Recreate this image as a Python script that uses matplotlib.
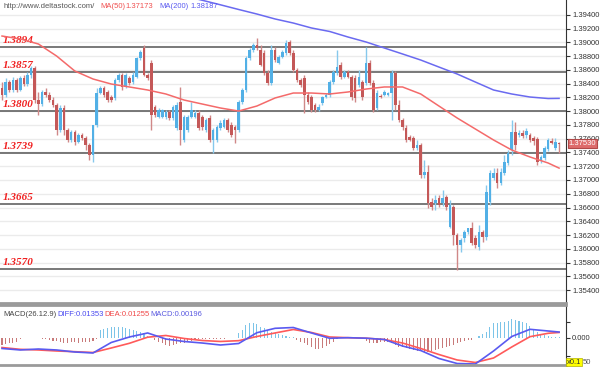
import numpy as np
import matplotlib
matplotlib.use('Agg')
import matplotlib.pyplot as plt

# daily candles (oldest -> newest)
opens = [1.3834, 1.3824, 1.3843, 1.3831, 1.3845, 1.3831, 1.3848, 1.3840, 1.3853, 1.3863,
         1.3816, 1.3811, 1.3828, 1.3824, 1.3816, 1.3809, 1.3773, 1.3805, 1.3773, 1.3758,
         1.3770, 1.3755, 1.3765, 1.3761, 1.3751, 1.3736, 1.3780, 1.3827, 1.3834, 1.3828,
         1.3821, 1.3819, 1.3845, 1.3853, 1.3835, 1.3848, 1.3843, 1.3850, 1.3877, 1.3892,
         1.3853, 1.3870, 1.3806, 1.3792, 1.3792, 1.3792, 1.3799, 1.3790, 1.3776, 1.3813,
         1.3758, 1.3773, 1.3792, 1.3792, 1.3797, 1.3792, 1.3773, 1.3790, 1.3758, 1.3758,
         1.3776, 1.3777, 1.3787, 1.3780, 1.3777, 1.3773, 1.3813, 1.3831, 1.3877, 1.3889,
         1.3896, 1.3889, 1.3885, 1.3856, 1.3841, 1.3889, 1.3870, 1.3879, 1.3885, 1.3901,
         1.3885, 1.3860, 1.3845, 1.3848, 1.3824, 1.3821, 1.3809, 1.3802, 1.3812, 1.3821,
         1.3824, 1.3843, 1.3856, 1.3867, 1.3850, 1.3857, 1.3850, 1.3848, 1.3838, 1.3843,
         1.3841, 1.3870, 1.3841, 1.3805, 1.3822, 1.3824, 1.3824, 1.3827, 1.3856, 1.3809,
         1.3787, 1.3776, 1.3763, 1.3761, 1.3747, 1.3751, 1.3707, 1.3712, 1.3668, 1.3667,
         1.3674, 1.3667, 1.3675, 1.3632, 1.3661, 1.3620, 1.3605, 1.3616, 1.3624, 1.3630,
         1.3616, 1.3603, 1.3624, 1.3617, 1.3668, 1.3703, 1.3710, 1.3696, 1.3710, 1.3725,
         1.3744, 1.3770, 1.3765, 1.3768, 1.3765, 1.3765, 1.3761, 1.3760, 1.3728, 1.3732,
         1.3745, 1.3757, 1.3747, 1.3754]
highs = [1.3843, 1.3848, 1.3845, 1.3850, 1.3848, 1.3851, 1.3853, 1.3857, 1.3866, 1.3866,
         1.3828, 1.3831, 1.3834, 1.3828, 1.3821, 1.3812, 1.3809, 1.3809, 1.3776, 1.3773,
         1.3773, 1.3768, 1.3768, 1.3764, 1.3754, 1.3780, 1.3834, 1.3837, 1.3837, 1.3831,
         1.3824, 1.3848, 1.3856, 1.3856, 1.3856, 1.3851, 1.3857, 1.3879, 1.3889, 1.3896,
         1.3856, 1.3875, 1.3809, 1.3805, 1.3803, 1.3802, 1.3802, 1.3809, 1.3813, 1.3835,
         1.3795, 1.3795, 1.3813, 1.3802, 1.3802, 1.3795, 1.3790, 1.3795, 1.3776, 1.3780,
         1.3787, 1.3790, 1.3790, 1.3784, 1.3780, 1.3816, 1.3834, 1.3880, 1.3892, 1.3899,
         1.3907, 1.3896, 1.3889, 1.3860, 1.3896, 1.3893, 1.3882, 1.3889, 1.3904, 1.3904,
         1.3889, 1.3863, 1.3848, 1.3853, 1.3828, 1.3824, 1.3812, 1.3811, 1.3822, 1.3827,
         1.3845, 1.3860, 1.3889, 1.3872, 1.3860, 1.3860, 1.3853, 1.3853, 1.3860, 1.3845,
         1.3893, 1.3875, 1.3845, 1.3831, 1.3825, 1.3831, 1.3828, 1.3860, 1.3858, 1.3816,
         1.3790, 1.3780, 1.3765, 1.3764, 1.3758, 1.3754, 1.3729, 1.3722, 1.3674, 1.3678,
         1.3678, 1.3686, 1.3678, 1.3671, 1.3664, 1.3623, 1.3616, 1.3627, 1.3630, 1.3639,
         1.3620, 1.3635, 1.3627, 1.3693, 1.3715, 1.3717, 1.3717, 1.3717, 1.3736, 1.3744,
         1.3787, 1.3784, 1.3773, 1.3773, 1.3776, 1.3768, 1.3764, 1.3763, 1.3736, 1.3749,
         1.3761, 1.3761, 1.3761, 1.3755]
lows = [1.3816, 1.3821, 1.3828, 1.3828, 1.3828, 1.3829, 1.3837, 1.3837, 1.3848, 1.3812,
        1.3795, 1.3808, 1.3821, 1.3813, 1.3806, 1.3765, 1.3770, 1.3765, 1.3755, 1.3755,
        1.3751, 1.3754, 1.3758, 1.3744, 1.3729, 1.3726, 1.3777, 1.3825, 1.3821, 1.3813,
        1.3813, 1.3816, 1.3843, 1.3831, 1.3834, 1.3838, 1.3840, 1.3848, 1.3875, 1.3851,
        1.3845, 1.3773, 1.3792, 1.3790, 1.3790, 1.3789, 1.3787, 1.3787, 1.3773, 1.3751,
        1.3755, 1.3770, 1.3790, 1.3790, 1.3773, 1.3773, 1.3770, 1.3755, 1.3739, 1.3755,
        1.3773, 1.3776, 1.3770, 1.3763, 1.3754, 1.3770, 1.3811, 1.3828, 1.3875, 1.3886,
        1.3889, 1.3866, 1.3853, 1.3838, 1.3838, 1.3872, 1.3869, 1.3877, 1.3882, 1.3882,
        1.3857, 1.3843, 1.3835, 1.3797, 1.3811, 1.3799, 1.3799, 1.3800, 1.3809, 1.3819,
        1.3821, 1.3840, 1.3853, 1.3847, 1.3848, 1.3848, 1.3816, 1.3813, 1.3835, 1.3816,
        1.3838, 1.3838, 1.3799, 1.3802, 1.3819, 1.3822, 1.3822, 1.3787, 1.3802, 1.3784,
        1.3773, 1.3755, 1.3757, 1.3744, 1.3744, 1.3703, 1.3703, 1.3659, 1.3656, 1.3656,
        1.3661, 1.3662, 1.3656, 1.3630, 1.3605, 1.3569, 1.3595, 1.3610, 1.3621, 1.3605,
        1.3601, 1.3598, 1.3610, 1.3613, 1.3664, 1.3700, 1.3688, 1.3693, 1.3707, 1.3722,
        1.3736, 1.3744, 1.3763, 1.3761, 1.3761, 1.3755, 1.3751, 1.3722, 1.3725, 1.3729,
        1.3742, 1.3753, 1.3744, 1.3739]
closes = [1.3824, 1.3843, 1.3831, 1.3845, 1.3831, 1.3848, 1.3840, 1.3853, 1.3863, 1.3816,
          1.3811, 1.3828, 1.3824, 1.3816, 1.3809, 1.3773, 1.3805, 1.3773, 1.3758, 1.3770,
          1.3755, 1.3765, 1.3761, 1.3751, 1.3736, 1.3780, 1.3827, 1.3834, 1.3824, 1.3816,
          1.3816, 1.3845, 1.3853, 1.3835, 1.3853, 1.3841, 1.3853, 1.3877, 1.3886, 1.3853,
          1.3848, 1.3795, 1.3795, 1.3802, 1.3802, 1.3799, 1.3790, 1.3806, 1.3809, 1.3773,
          1.3792, 1.3792, 1.3802, 1.3797, 1.3776, 1.3777, 1.3787, 1.3758, 1.3773, 1.3777,
          1.3783, 1.3787, 1.3773, 1.3765, 1.3773, 1.3813, 1.3831, 1.3877, 1.3889, 1.3896,
          1.3892, 1.3867, 1.3856, 1.3841, 1.3889, 1.3875, 1.3879, 1.3886, 1.3899, 1.3885,
          1.3860, 1.3845, 1.3838, 1.3824, 1.3813, 1.3802, 1.3802, 1.3806, 1.3821, 1.3824,
          1.3843, 1.3857, 1.3864, 1.3850, 1.3857, 1.3850, 1.3821, 1.3819, 1.3850, 1.3821,
          1.3870, 1.3841, 1.3802, 1.3827, 1.3821, 1.3828, 1.3827, 1.3856, 1.3809, 1.3787,
          1.3777, 1.3758, 1.3758, 1.3747, 1.3751, 1.3707, 1.3712, 1.3667, 1.3661, 1.3671,
          1.3664, 1.3674, 1.3661, 1.3664, 1.3620, 1.3605, 1.3613, 1.3624, 1.3630, 1.3608,
          1.3605, 1.3624, 1.3617, 1.3683, 1.3710, 1.3710, 1.3696, 1.3712, 1.3726, 1.3739,
          1.3770, 1.3751, 1.3768, 1.3764, 1.3771, 1.3758, 1.3757, 1.3726, 1.3733, 1.3747,
          1.3758, 1.3754, 1.3755, 1.3753]

# moving averages, sampled every 5 bars
ma50_bars = [0, 5, 10, 15, 20, 25, 30, 35, 40, 45, 50, 55, 60, 65, 70, 75,
             80, 85, 90, 95, 100, 105, 110, 115, 120, 125, 130, 135, 140, 145, 150, 153]
ma50 = [1.39094, 1.39051, 1.38978, 1.38803, 1.38585, 1.38469, 1.38396, 1.38353,
        1.38309, 1.38251, 1.38163, 1.38105, 1.38047, 1.38003, 1.38076, 1.38193,
        1.38265, 1.38265, 1.38251, 1.38280, 1.38323, 1.38353, 1.38353, 1.38251,
        1.38076, 1.37902, 1.37742, 1.37582, 1.37436, 1.37335, 1.37247, 1.37173]
ma200_bars = [50, 55, 60, 65, 70, 75, 80, 85, 90, 95, 100, 105, 110, 115, 120,
              125, 130, 135, 140, 145, 150, 153]
ma200 = [1.39680, 1.39614, 1.39548, 1.39480, 1.39414, 1.39342, 1.39283, 1.39211,
         1.39160, 1.39080, 1.39007, 1.38920, 1.38833, 1.38745, 1.38643, 1.38542,
         1.38425, 1.38309, 1.38251, 1.38207, 1.38185, 1.38187]

levels = [1.3894, 1.3857, 1.3800, 1.3739, 1.3665, 1.3570]

# MACD(26,12,9)
diff = [-0.0238, -0.0272, -0.0250, -0.0272, -0.0318, -0.0340, -0.0102, 0.0023,
        0.0114, -0.0023, -0.0079, -0.0114, -0.0159, -0.0125, 0.0120, 0.0220,
        0.0238, 0.0114, -0.0007, 0.0007, -0.0005, -0.0034, -0.0182, -0.0284,
        -0.0465, -0.0579, -0.0590, -0.0295, 0.0034, 0.0197, 0.0159, 0.01353]
dea = [-0.0216, -0.0257, -0.0272, -0.0295, -0.0311, -0.0329, -0.0227, -0.0120,
       0.0018, 0.0057, -0.0011, -0.0057, -0.0079, -0.0061, 0.0034, 0.0114,
       0.0193, 0.0125, 0.0023, 0.0007, -0.0005, -0.0034, -0.0114, -0.0238,
       -0.0375, -0.0499, -0.0556, -0.0454, -0.0204, 0.0030, 0.0107, 0.01255]
macd_hist = [-0.0159, -0.0136, -0.0120, -0.0107, -0.0084, -0.0023, -0.0011, -0.0011, 0.0011, 0.0011,
             -0.0011, -0.0023, -0.0034, -0.0045, -0.0068, -0.0079, -0.0091, -0.0114, -0.0114, -0.0102,
             -0.0102, -0.0114, -0.0102, -0.0091, -0.0091, -0.0079, -0.0023, 0.0182, 0.0197, 0.0220,
             0.0243, 0.0243, 0.0257, 0.0243, 0.0227, 0.0204, 0.0189, 0.0166, 0.0143, 0.0107,
             0.0045, 0.0011, -0.0045, -0.0084, -0.0120, -0.0159, -0.0182, -0.0159, -0.0136, -0.0120,
             -0.0107, -0.0084, -0.0057, -0.0034, -0.0034, -0.0034, -0.0034, -0.0034, -0.0034, -0.0023,
             -0.0023, -0.0023, -0.0011, -0.0011, 0.0011, 0.0107, 0.0182, 0.0295, 0.0333, 0.0333,
             0.0318, 0.0257, 0.0220, 0.0182, 0.0143, 0.0107, 0.0091, 0.0068, 0.0045, 0.0030,
             0.0023, -0.0045, -0.0084, -0.0107, -0.0159, -0.0211, -0.0257, -0.0257, -0.0234, -0.0182,
             -0.0136, -0.0084, -0.0034, -0.0011, 0.0011, 0.0011, -0.0011, 0.0011, -0.0011, -0.0023,
             -0.0068, -0.0107, -0.0120, -0.0107, -0.0091, -0.0084, -0.0102, -0.0120, -0.0159, -0.0197,
             -0.0211, -0.0234, -0.0257, -0.0272, -0.0284, -0.0295, -0.0311, -0.0311, -0.0295, -0.0279,
             -0.0257, -0.0234, -0.0204, -0.0182, -0.0159, -0.0120, -0.0091, -0.0068, -0.0052, -0.0045,
             -0.0011, 0.0045, 0.0091, 0.0143, 0.0257, 0.0333, 0.0348, 0.0356, 0.0356, 0.0386,
             0.0424, 0.0409, 0.0393, 0.0370, 0.0333, 0.0272, 0.0197, 0.0143, 0.0091, 0.0068,
             0.0045, 0.0030, 0.0023, 0.00196]

last_price = 1.37530

UP = '#52b0e6'
DOWN = '#c45858'
UP_WICK = '#86c8ec'
DOWN_WICK = '#d08888'
FONT = ['Liberation Sans', 'DejaVu Sans']

o = np.array(opens)
h = np.array(highs)
l = np.array(lows)
c = np.array(closes)
bars = np.arange(len(c))
rising = c >= o

fig = plt.figure(figsize=(6, 3.73), dpi=100)
fig.patch.set_facecolor('white')
ax = fig.add_axes([0, 70 / 373, 566 / 600, 303 / 373])
ax2 = fig.add_axes([0, 8 / 373, 566 / 600, 60 / 373], sharex=ax)

"""
PRICE PANEL
"""
ax.set_ylim(1.35211, 1.39618)
ax.set_xlim(-0.55, 154.9)
ticks = np.arange(1.354, 1.3941, 0.002)
ax.set_yticks(ticks)
ax.set_yticklabels(['%.5f' % t for t in ticks], fontsize=5.5, family=FONT, color='#333333')
ax.yaxis.tick_right()
ax.tick_params(axis='y', length=3, width=0.8, pad=1.5, color='#333333')
ax.tick_params(axis='x', bottom=False, labelbottom=False)
ax.yaxis.grid(True, color='#ebebeb', lw=1)
ax.set_axisbelow(True)

for lvl in levels:
    ax.axhline(lvl, color='#555555', lw=1.1, zorder=1)
    ax.annotate('%.4f' % lvl, xy=(0.004, lvl), xycoords=ax.get_yaxis_transform(),
                xytext=(0, 1.5), textcoords='offset points', va='bottom', ha='left',
                fontsize=8, color='#f02020', fontweight='bold', fontstyle='italic',
                family=['Liberation Serif', 'DejaVu Serif'])

ax.vlines(bars, l, h, colors=np.where(rising, UP_WICK, DOWN_WICK), lw=1, zorder=3)
body = np.maximum(np.abs(c - o), 0.00008)
ax.bar(bars, body, bottom=np.minimum(o, c), width=0.72,
       color=np.where(rising, UP, DOWN), linewidth=0, zorder=4)

ax.plot(ma50_bars, ma50, color='#f46a6a', lw=1.1, zorder=5)
ax.plot(ma200_bars, ma200, color='#6a6af0', lw=1.1, zorder=5)

ax.annotate('%.5f' % last_price, xy=(1.0, last_price), xycoords=ax.get_yaxis_transform(),
            xytext=(2, 0.3), textcoords='offset points', va='center', ha='left',
            fontsize=5.5, family=FONT, color='white', annotation_clip=False,
            bbox=dict(boxstyle='square,pad=0.12', fc='#de6b6b', ec='#b04848', lw=0.8))

for side in ['left', 'top']:
    ax.spines[side].set_visible(False)
ax.spines['right'].set_color('#333333')
ax.spines['bottom'].set_color('#9a9a9a')
ax.spines['bottom'].set_linewidth(2)

fig.text(3 / 600, 1 - 7 / 373, 'http://www.deltastock.com/', fontsize=5.5, family=FONT,
         color='#555555', va='center')
fig.text(100 / 600, 1 - 7 / 373, 'MA(50)', fontsize=5.5, family=FONT, color='#f05050', va='center')
fig.text(125 / 600, 1 - 7 / 373, '%.5f' % ma50[-1], fontsize=5.5, family=FONT, color='#f05050', va='center')
fig.text(159 / 600, 1 - 7 / 373, 'MA(200)', fontsize=5.5, family=FONT, color='#5a5af0', va='center')
fig.text(190 / 600, 1 - 7 / 373, '%.5f' % ma200[-1], fontsize=5.5, family=FONT, color='#5a5af0', va='center')

"""
MACD PANEL
"""
macd_bars = ma50_bars
ax2.set_ylim(-0.0613, 0.0749)
hist = np.array(macd_hist)
ax2.bar(bars, hist, width=0.3, color=np.where(hist >= 0, '#7cc4e8', '#c87a7a'), linewidth=0)
ax2.plot(macd_bars, dea, color='#ff5a5a', lw=1.2)
ax2.plot(macd_bars, diff, color='#5a5af0', lw=1.2)

ax2.yaxis.tick_right()
ax2.set_yticks([-0.041, 0.0, 0.037])
ax2.set_yticklabels(['', '0.000', ''], fontsize=5.5, family=FONT, color='#333333')
ax2.tick_params(axis='y', length=3, width=0.8, pad=1.5, color='#333333')
ax2.tick_params(axis='x', bottom=False, labelbottom=False)
ax2.spines['left'].set_visible(False)
ax2.spines['right'].set_color('#333333')
for side in ['top', 'bottom']:
    ax2.spines[side].set_color('#9a9a9a')
    ax2.spines[side].set_linewidth(2)

fig.text(3 / 600, 1 - 315 / 373, 'MACD(26.12.9)', fontsize=5.5, family=FONT, color='#444444', va='center')
fig.text(57 / 600, 1 - 315 / 373, 'DIFF:%.5f' % diff[-1], fontsize=5.5, family=FONT, color='#4a4af0', va='center')
fig.text(104 / 600, 1 - 315 / 373, 'DEA:%.5f' % dea[-1], fontsize=5.5, family=FONT, color='#f04848', va='center')
fig.text(150 / 600, 1 - 315 / 373, 'MACD:%.5f' % macd_hist[-1], fontsize=5.5, family=FONT, color='#5a5ae0', va='center')

fig.text(567 / 600, 1 - 362 / 373, 'x0.1', fontsize=5.5, family=FONT, color='#333333', va='center',
         bbox=dict(boxstyle='square,pad=0.1', fc='#ffff00', ec='#b0b000', lw=0.5))
fig.text(583 / 600, 1 - 362 / 373, '50', fontsize=5.5, family=FONT, color='#555555', va='center')

fig.savefig('out.png', dpi=100, facecolor='white')
